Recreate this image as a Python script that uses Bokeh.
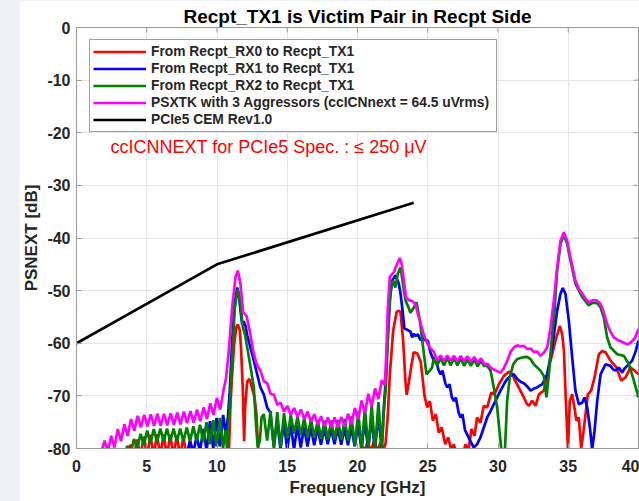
from bokeh.plotting import figure
from bokeh.models import Range1d, FixedTicker, Label, Spacer
from bokeh.layouts import row
from bokeh.embed import file_html
from bokeh.resources import INLINE

# ---------------- data ----------------
title_text = "Recpt_TX1 is Victim Pair in Recpt Side"
x_label = "Frequency [GHz]"
y_label = "PSNEXT [dB]"
x_ticks = [0, 5, 10, 15, 20, 25, 30, 35, 40]
y_ticks = [-80, -70, -60, -50, -40, -30, -20, -10, 0]
y_tick_labels = ["-80", "-70", "-60", "-50", "-40", "-30", "-20", "-10", "0"]
note_text = "ccICNNEXT  for PCIe5 Spec. : \u2264 250 \u03bcV"
note_pos = (2.42, -22.8)

names = ["From Recpt_RX0 to Recpt_TX1",
         "From Recpt_RX1 to Recpt_TX1",
         "From Recpt_RX2 to Recpt_TX1",
         "PSXTK with 3 Aggressors (ccICNnext = 64.5 uVrms)",
         "PCIe5 CEM Rev1.0"]
colors = ["#ff0000", "#0000ff", "#008000", "#ff00ff", "#000000"]

rx0_f = [3.45, 3.85, 4.08, 4.32, 4.55, 4.79, 5.02, 5.26, 5.49, 5.73, 5.96, 6.2, 6.43, 6.67, 6.9, 7.14, 7.37, 7.61, 7.84, 8.08, 8.31,
         10.8, 10.85, 10.96, 11.08, 11.2, 11.37, 11.48, 11.63, 11.72, 11.84, 11.93, 12.0, 12.15, 12.31, 12.5, 12.67, 12.81, 12.9, 12.97,
         20.1, 20.3, 20.5, 20.72, 20.95, 21.18, 21.42, 21.65, 21.85, 22.0, 22.16, 22.3, 22.54, 22.78, 22.9, 23.06, 23.25, 23.41, 23.5,
         23.65, 23.82, 24.0, 24.25, 24.5, 24.77, 24.96, 25.15, 25.36, 25.57, 25.79, 26.0, 26.24, 26.45, 26.67, 26.86, 27.05, 27.45,
         27.69, 27.9, 28.11, 28.33, 28.51, 28.75, 28.99, 29.23, 29.52, 29.75, 30.06, 30.42, 30.77, 31.0, 31.2, 31.49, 31.84, 32.05,
         32.2, 32.43, 32.67, 32.91, 33.26, 33.62, 34.09, 34.4, 34.57, 34.69, 34.83, 34.98, 35.11, 35.28, 35.44, 35.58, 35.75, 35.92,
         36.06, 36.23, 36.39, 36.63, 36.87, 37.18, 37.4, 37.65, 38.01, 38.43, 38.77, 39.08, 39.43, 39.72, 40.0]
rx0_db = [-81.5, -79.3, -81.5, -78.3, -81.5, -77.7, -81.5, -77.4, -81.5, -77.3, -81.5, -77.3, -81.5, -77.4, -81.5, -77.5, -81.5, -77.8, -81.5, -78.5, -81.5,
          -81.5, -80.5, -71.6, -65.9, -60.8, -57.0, -56.4, -57.6, -61.4, -69.0, -78.6, -72.2, -67.2, -66.8, -68.6, -70.3, -73.5, -78.6, -81.5,
          -81.5, -79.2, -80.6, -78.7, -80.5, -78.6, -80.4, -78.8, -80.2, -79.0, -73.5, -65.9, -57.6, -54.1, -53.8, -54.0, -59.5, -67.1, -69.8,
          -67.5, -64.5, -61.7, -61.9, -63.5, -70.0, -72.2, -71.0, -74.7, -73.5, -77.0, -76.0, -79.2, -77.9, -80.2, -79.2, -81.5, -81.5,
          -79.2, -80.4, -76.3, -77.6, -74.1, -75.1, -71.9, -72.2, -69.4, -69.7, -67.8, -66.2, -65.4, -65.8, -67.0, -68.5, -70.3, -71.5,
          -71.9, -70.9, -71.9, -69.7, -69.0, -64.6, -59.5, -56.7, -58.3, -61.4, -71.0, -80.2, -71.0, -69.7, -72.2, -74.7, -74.1, -80.0,
          -77.3, -73.5, -69.7, -69.0, -66.5, -62.1, -61.5, -61.7, -63.3, -64.6, -67.1, -66.5, -64.6, -65.2, -65.9]

rx1_f = [7.85, 8.08, 8.32, 8.55, 8.79, 9.02, 9.26, 9.5, 9.73, 9.97, 10.2, 10.44, 10.62, 10.78, 10.91, 11.08, 11.25, 11.44, 11.57,
         11.67, 11.79, 11.9, 12.03, 12.15, 12.38, 12.62, 12.86, 13.09, 13.33, 13.57, 13.8,
         14.04, 14.28, 14.52, 14.76, 15.0, 15.24, 15.48, 15.72, 15.96, 16.2, 16.44, 16.68, 16.92, 17.16, 17.4, 17.64, 17.88, 18.12,
         18.36, 18.6, 18.84, 19.08, 19.32, 19.56, 19.8, 20.04, 20.28, 20.52, 20.76, 21.0, 21.24, 21.48, 21.72, 21.88, 22.0, 22.23,
         22.47, 22.7, 22.94, 23.06, 23.18, 23.34, 23.5, 23.65, 23.77, 23.89, 24.01, 24.13, 24.3, 24.48, 24.65, 24.84, 25.0, 25.2,
         25.43, 25.55, 25.75, 25.91, 26.05, 26.25, 26.39, 26.55, 26.72, 26.86, 27.0, 27.2, 27.33, 27.47, 27.65, 27.8, 28.04, 28.27,
         28.51, 28.75, 28.99, 29.23, 29.47, 29.7, 29.94, 30.18, 30.42, 30.65, 30.89, 31.13, 31.37, 31.6, 31.84, 32.08, 32.32, 32.55,
         32.79, 33.0, 33.15, 33.5, 33.86, 34.21, 34.45, 34.61, 34.8, 35.04, 35.28, 35.51, 35.75, 35.99, 36.16, 36.35, 36.54, 36.7,
         36.87, 37.06, 37.3, 37.65, 38.01, 38.2, 38.37, 38.6, 38.84, 39.0, 39.2, 39.55, 39.8, 40.0]
rx1_db = [-81.0, -78.6, -80.8, -77.6, -80.6, -76.3, -80.4, -74.8, -80.0, -74.2, -79.6, -73.6, -77.5, -74.0, -69.0, -59.5, -52.5, -49.4, -51.0,
          -53.8, -56.4, -55.8, -56.7, -58.5, -60.8, -63.3, -65.9, -68.4, -69.7, -72.2, -73.2,
          -79.5, -74.7, -80.2, -75.0, -80.3, -75.3, -80.2, -75.6, -79.8, -75.9, -79.6, -76.0, -79.4, -76.1, -79.3, -76.2, -79.2, -76.2,
          -79.2, -76.2, -79.3, -76.2, -79.4, -76.0, -79.6, -75.6, -80.0, -74.8, -80.2, -74.2, -80.4, -73.6, -80.0, -72.0, -67.4, -53.2,
          -48.1, -47.1, -48.7, -50.5, -53.2, -57.2, -57.4, -57.6, -57.8, -58.9, -58.2, -58.6, -58.3, -59.4, -59.0, -59.5, -59.5, -61.8,
          -63.3, -62.7, -65.0, -65.9, -65.2, -67.6, -68.4, -67.8, -70.3, -71.0, -70.3, -73.2, -74.1, -73.5, -76.5, -77.3, -78.6, -79.8,
          -79.2, -77.9, -76.0, -74.1, -72.9, -71.6, -70.3, -69.0, -67.8, -66.8, -66.2, -65.9, -66.8, -67.3, -67.6, -68.2, -69.0, -68.6,
          -68.4, -68.0, -67.8, -65.9, -60.8, -53.8, -50.6, -49.5, -50.6, -55.7, -62.7, -69.0, -71.6, -71.3, -70.3, -72.2, -76.0, -80.2,
          -76.7, -71.0, -65.9, -64.0, -64.3, -65.0, -65.2, -64.6, -65.6, -64.8, -64.3, -63.3, -61.5, -59.5]

rx2_f = [3.4, 3.62, 3.85, 4.09, 4.32, 4.56, 4.79, 5.03, 5.26, 5.5, 5.73, 5.97, 6.2, 6.44, 6.67, 6.91, 7.14, 7.38, 7.61, 7.85,
         8.08, 8.32, 8.55, 8.79, 9.02, 9.26, 9.49, 9.73, 9.96, 10.2, 10.43, 10.6, 10.72, 10.91, 11.08, 11.27, 11.48, 11.67, 11.84,
         11.98, 12.19, 12.43, 12.62, 12.79, 12.9, 13.05, 13.17, 13.33,
         13.57, 13.81, 14.05, 14.29, 14.53, 14.77, 15.01, 15.25, 15.49, 15.73, 15.97, 16.21, 16.45, 16.69, 16.93, 17.17, 17.41,
         17.65, 17.89, 18.13, 18.37, 18.61, 18.85, 19.09, 19.33, 19.57, 19.81, 20.05, 20.29, 20.53, 20.77, 21.01, 21.25, 21.49,
         21.73, 21.9, 22.0, 22.16, 22.35, 22.54, 22.7, 22.87, 23.06, 23.2, 23.3, 23.42, 23.6, 23.77, 24.01, 24.2, 24.44, 24.67,
         24.91, 25.15, 25.31, 25.43, 25.67, 25.91, 26.15, 26.39, 26.63, 26.87, 27.11, 27.35, 27.59, 27.83, 28.07, 28.31, 28.55,
         28.79, 28.99, 29.23, 29.47, 29.7, 29.94, 30.13, 30.25, 30.49, 30.65, 30.84, 31.08, 31.37, 31.72, 32.08, 32.31, 32.55,
         33.02, 33.26, 33.45, 33.62, 33.79, 34.02, 34.21, 34.45, 34.69, 34.92, 35.16, 35.51, 35.99, 36.46, 36.75, 37.06, 37.3,
         37.53, 37.77, 38.01, 38.49, 38.96, 39.32, 39.67, 40.0]
rx2_db = [-81.5, -79.5, -81.0, -78.2, -80.0, -77.2, -79.3, -76.6, -79.0, -76.3, -78.8, -76.2, -78.7, -76.2, -78.7, -76.2, -78.7, -76.2, -78.6, -76.0,
          -78.6, -75.8, -78.6, -75.5, -78.8, -75.0, -79.2, -74.6, -79.6, -74.2, -80.0, -76.5, -80.2, -72.2, -62.7, -53.2, -49.7, -52.5, -57.0,
          -58.2, -61.4, -65.2, -68.4, -76.0, -79.8, -78.6, -74.1, -73.5,
          -78.5, -72.9, -80.2, -73.1, -79.8, -73.3, -78.0, -73.6, -77.2, -73.9, -77.5, -74.2, -77.8, -74.4, -78.0, -74.6, -78.2,
          -74.7, -78.3, -74.7, -78.3, -74.6, -78.3, -74.4, -78.5, -73.9, -79.5, -73.0, -80.2, -72.2, -80.3, -71.6, -80.3, -71.2,
          -80.2, -72.0, -69.0, -59.5, -50.0, -48.1, -49.4, -46.8, -45.6, -48.0, -50.0, -51.9, -53.0, -54.2, -53.2, -52.2, -55.7, -60.8,
          -65.9, -65.2, -64.6, -62.9, -64.2, -62.8, -64.2, -62.8, -64.2, -62.8, -64.2, -62.9, -64.3, -63.0, -64.3, -63.1, -64.4,
          -63.3, -64.3, -64.3, -65.2, -68.4, -72.2, -77.3, -80.5, -80.5, -71.0, -66.5, -64.0, -63.0, -62.7, -62.6, -63.0, -64.0,
          -65.2, -66.2, -70.3, -65.9, -60.2, -53.8, -46.2, -41.1, -39.5, -41.1, -44.3, -48.7, -51.2, -52.8, -52.3, -52.4, -53.2,
          -55.1, -58.9, -60.8, -62.1, -62.4, -64.0, -67.1, -70.3]

ps_f = [1.5, 1.78, 2.0, 2.23, 2.47, 2.7, 2.94, 3.17, 3.41, 3.64, 3.88, 4.11, 4.35, 4.58, 4.82, 5.05, 5.29, 5.52, 5.76, 5.99,
        6.23, 6.46, 6.7, 6.93, 7.17, 7.4, 7.64, 7.87, 8.11, 8.34, 8.58, 8.81, 9.05, 9.28, 9.52, 9.75, 9.99, 10.22, 10.46, 10.65,
        10.84, 11.08, 11.32, 11.48, 11.67, 11.86, 12.1, 12.33, 12.57, 12.81, 13.09,
        13.33, 13.57, 13.81, 14.05, 14.29, 14.53, 14.77, 15.01, 15.25, 15.49, 15.73, 15.97, 16.21, 16.45, 16.69, 16.93, 17.17,
        17.41, 17.65, 17.89, 18.13, 18.37, 18.61, 18.85, 19.09, 19.33, 19.57, 19.81, 20.05, 20.29, 20.53, 20.77, 21.01, 21.25,
        21.49, 21.73, 21.95, 22.05, 22.16, 22.3, 22.59, 22.82, 23.01, 23.15, 23.3, 23.45, 23.65, 23.9, 24.13, 24.3, 24.48, 24.67,
        24.96, 25.2, 25.43, 25.67, 25.91, 26.15, 26.39, 26.63, 26.87, 27.11, 27.35, 27.59, 27.83, 28.07, 28.31, 28.55, 28.79,
        29.03, 29.27, 29.47, 29.7, 29.94, 30.18, 30.4, 30.65, 30.9, 31.13, 31.37, 31.6, 31.84, 32.08, 32.32, 32.55, 32.79, 33.02,
        33.26, 33.5, 33.74, 33.97, 34.21, 34.45, 34.69, 34.92, 35.16, 35.51, 35.75, 35.99, 36.23, 36.46, 36.75, 37.06, 37.25,
        37.41, 37.6, 37.77, 38.0, 38.25, 38.6, 38.96, 39.2, 39.43, 39.75, 40.0]
ps_db = [-83.0, -80.5, -78.5, -80.6, -77.6, -79.8, -76.3, -78.6, -75.4, -77.6, -74.4, -76.6, -73.8, -76.0, -73.6, -75.8, -73.5, -75.7, -73.4, -75.7,
         -73.4, -75.6, -73.3, -75.5, -73.2, -75.4, -73.0, -75.2, -72.9, -75.1, -72.6, -74.8, -72.2, -74.4, -71.4, -73.6, -70.4, -72.6, -69.0, -66.5,
         -61.4, -53.2, -47.4, -46.2, -48.7, -54.1, -54.8, -57.6, -61.4, -63.9, -65.2,
         -67.2, -67.6, -69.6, -69.8, -71.7, -71.3, -73.0, -71.9, -73.6, -72.3, -74.0, -72.6, -74.4, -73.0, -74.9, -73.5, -75.4,
         -73.9, -75.8, -74.1, -76.0, -74.1, -76.0, -74.0, -75.8, -73.4, -75.4, -72.3, -74.5, -70.9, -73.3, -69.6, -72.0, -68.6,
         -70.6, -67.0, -68.0, -62.0, -53.2, -47.4, -46.5, -44.9, -43.8, -45.0, -48.0, -51.3, -51.8, -52.0, -52.6, -54.5, -56.0, -58.0,
         -60.0, -61.0, -61.6, -63.3, -62.3, -63.3, -62.3, -63.3, -62.4, -63.4, -62.4, -63.4, -62.5, -63.5, -62.6, -63.6, -62.9,
         -64.0, -63.9, -64.6, -65.0, -65.3, -65.6, -64.8, -63.4, -61.6, -60.8, -60.4, -60.6, -60.5, -61.1, -61.0, -61.7, -61.6, -62.4,
         -61.8, -60.8, -57.0, -51.9, -45.6, -40.5, -38.9, -40.5, -43.7, -48.1, -49.6, -50.6, -51.5, -52.2, -51.8, -51.9, -52.4,
         -53.2, -54.8, -56.4, -57.8, -58.9, -59.5, -59.9, -60.2, -59.9, -59.0, -57.3]

cem_f = [0, 10, 24]
cem_db = [-60, -45, -33.3]

# ---------------- figure ----------------
FONT = "Liberation Sans"
TXT = "#262626"
AX = "#9a9a9a"
X0, X1, Y0, Y1 = 0, 40, -80, 0

p = figure(width=620, height=501, output_backend="svg", toolbar_location=None,
           x_range=Range1d(X0, X1), y_range=Range1d(Y0, Y1),
           min_border_left=57, min_border_right=1, min_border_top=27, min_border_bottom=53,
           background_fill_color="white", border_fill_color="white")

p.title.text = title_text
p.title.align = "center"
p.title.text_font = FONT
p.title.text_font_size = "19px"
p.title.text_font_style = "bold"
p.title.text_color = "#000000"
p.title.standoff = 2

p.outline_line_color = AX
p.outline_line_width = 1

for ax in (p.xaxis[0], p.yaxis[0]):
    ax.axis_line_color = AX
    ax.major_tick_line_color = AX
    ax.major_tick_in = 5
    ax.major_tick_out = 0
    ax.minor_tick_line_color = None
    ax.major_label_text_font = FONT
    ax.major_label_text_font_size = "16px"
    ax.major_label_text_font_style = "bold"
    ax.major_label_text_color = TXT
    ax.axis_label_text_font = FONT
    ax.axis_label_text_font_size = "17px"
    ax.axis_label_text_font_style = "bold"
    ax.axis_label_text_color = TXT

p.xaxis[0].ticker = FixedTicker(ticks=x_ticks)
p.yaxis[0].ticker = FixedTicker(ticks=y_ticks)
p.yaxis[0].major_label_overrides = {float(v): s for v, s in zip(y_ticks, y_tick_labels)}
p.xaxis[0].axis_label = x_label
p.yaxis[0].axis_label = y_label
p.xaxis[0].major_label_standoff = 11
p.xaxis[0].axis_label_standoff = 3
p.yaxis[0].major_label_standoff = 6
p.yaxis[0].axis_label_standoff = 3

p.xgrid.ticker = FixedTicker(ticks=x_ticks)
p.ygrid.ticker = FixedTicker(ticks=y_ticks)
p.grid.grid_line_color = "#e4e4e4"
p.grid.grid_line_width = 1

# inward ticks on the top and right edges of the box (5 px long)
tick_dy = 5 / (421 / (Y1 - Y0))
tick_dx = 5 / (562 / (X1 - X0))
p.segment(x0=x_ticks, y0=[Y1] * len(x_ticks), x1=x_ticks, y1=[Y1 - tick_dy] * len(x_ticks),
          line_color=AX, line_width=1)
p.segment(x0=[X1] * len(y_ticks), y0=y_ticks, x1=[X1 - tick_dx] * len(y_ticks), y1=y_ticks,
          line_color=AX, line_width=1)

series = [(rx0_f, rx0_db), (rx1_f, rx1_db), (rx2_f, rx2_db), (ps_f, ps_db), (cem_f, cem_db)]
for (fx, fy), nm, c in zip(series, names, colors):
    p.line(fx, fy, line_color=c, line_width=2.7, legend_label=nm)

leg = p.legend[0]
leg.location = (13, 316)
leg.label_text_font = FONT
leg.label_text_font_size = "13.8px"
leg.label_text_font_style = "bold"
leg.label_text_color = TXT
leg.glyph_width = 53
leg.glyph_height = 17
leg.label_height = 17
leg.label_width = 342
leg.label_standoff = 5
leg.spacing = 0
leg.padding = 3
leg.margin = 0
leg.border_line_color = "#404040"
leg.border_line_width = 1
leg.background_fill_color = "white"
leg.background_fill_alpha = 1.0

note = Label(x=note_pos[0], y=note_pos[1], text=note_text, text_font=FONT,
             text_font_size="18px", text_color="#ff0000", text_baseline="middle")
p.add_layout(note)

layout = row(Spacer(width=19, height=501), p)

html = file_html(layout, INLINE, title="Recpt_TX1")
head_end = html.find("</head>")
body_at = html.find("<body", head_end if head_end >= 0 else 0)
if body_at >= 0:
    html = html[:body_at] + '<body style="background-color:#eef1f5;"' + html[body_at + 5:]
open("out.html", "w").write(html)
